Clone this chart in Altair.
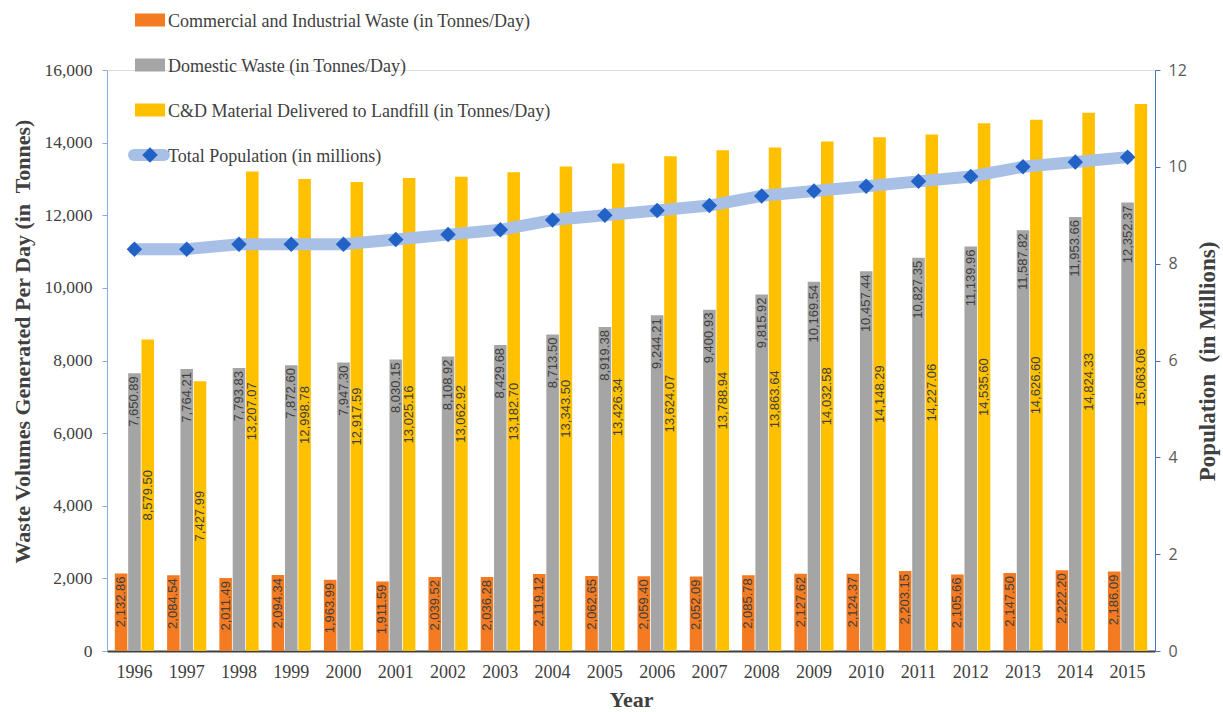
import altair as alt
import pandas as pd

years = [str(y) for y in range(1996, 2016)]

commercial = [2132.86, 2084.54, 2011.49, 2094.34, 1963.99, 1911.59, 2039.52, 2036.28, 2119.12, 2062.65,
              2059.40, 2052.09, 2085.78, 2127.62, 2124.37, 2203.15, 2105.66, 2147.50, 2222.20, 2186.09]
domestic = [7650.89, 7764.21, 7793.83, 7872.60, 7947.30, 8030.15, 8108.92, 8429.68, 8713.50, 8919.38,
            9244.21, 9400.93, 9815.92, 10169.54, 10457.44, 10827.35, 11139.96, 11587.82, 11953.66, 12352.37]
cd_material = [8579.50, 7427.99, 13207.07, 12998.78, 12917.59, 13025.16, 13062.92, 13182.70, 13343.50, 13426.34,
               13624.07, 13788.94, 13863.64, 14032.58, 14148.29, 14227.06, 14535.60, 14626.60, 14824.33, 15063.06]
population = [8.3, 8.3, 8.4, 8.4, 8.4, 8.5, 8.6, 8.7, 8.9, 9.0,
              9.1, 9.2, 9.4, 9.5, 9.6, 9.7, 9.8, 10.0, 10.1, 10.2]

series_names = ["Commercial and Industrial Waste (in Tonnes/Day)",
                "Domestic Waste (in Tonnes/Day)",
                "C&D Material Delivered to Landfill (in Tonnes/Day)"]
pop_name = "Total Population (in millions)"
bar_colors = ["#F47B22", "#A5A5A5", "#FFC000"]
line_color = "#A9C0E6"
point_color = "#2262C6"

rows = []
for i, yr in enumerate(years):
    for s, vals in zip(series_names, [commercial, domestic, cd_material]):
        rows.append({"Year": yr, "Series": s, "Value": vals[i]})
bars_df = pd.DataFrame(rows)
pop_df = pd.DataFrame({"Year": years, "Population": population})

W, H = 1048, 581
serif = "Liberation Serif"
txt = "#404040"

x_axis = alt.Axis(title="Year", labelAngle=0, labelFont=serif, labelFontSize=18, labelColor=txt,
                  labelPadding=12, ticks=False, domainColor="#404040", domainWidth=2,
                  titleFont=serif, titleFontSize=22, titleFontWeight="bold", titleColor=txt,
                  titleX=W / 2, titleY=48, titleBaseline="middle")
x_enc = alt.X("Year:N", sort=years, scale=alt.Scale(paddingInner=0.25, paddingOuter=0.15), axis=x_axis)
xoff = alt.XOffset("Series:N", sort=series_names,
                   scale=alt.Scale(domain=series_names, paddingInner=0.06))
color_enc = alt.Color("Series:N", scale=alt.Scale(domain=series_names, range=bar_colors), legend=None)

left_axis = alt.Axis(title="Waste Volumes Generated Per Day (in\u00a0 Tonnes)", values=list(range(0, 16001, 2000)),
                     format=",d", labelFont=serif, labelFontSize=17.5, labelColor=txt, labelPadding=10,
                     tickSize=5, tickColor="#8FAADC", domainColor="#8FAADC", grid=False, labelFlush=False,
                     titleFont=serif, titleFontSize=22, titleFontWeight="bold", titleColor=txt,
                     titleAngle=270, titleX=-85, titleY=271, titleBaseline="middle", titleAlign="center")
left_scale = alt.Scale(domain=[0, 16000], nice=False)

bars = alt.Chart(bars_df).mark_bar().encode(
    x=x_enc, xOffset=xoff, color=color_enc,
    y=alt.Y("Value:Q", scale=left_scale, axis=left_axis),
)

end_labels = alt.Chart(bars_df).transform_filter(
    alt.FieldOneOfPredicate(field="Series", oneOf=series_names[:2])
).mark_text(angle=270, align="right", baseline="middle", dx=-3, font="Liberation Sans",
            fontSize=13, color=txt).encode(
    x=x_enc, xOffset=xoff,
    y=alt.Y("Value:Q", scale=left_scale, axis=left_axis),
    text=alt.Text("Value:Q", format=",.2f"),
)

mid_labels = alt.Chart(bars_df).transform_filter(
    alt.FieldEqualPredicate(field="Series", equal=series_names[2])
).transform_calculate(Mid="datum.Value / 2").mark_text(
    angle=270, align="center", baseline="middle", font="Liberation Sans", fontSize=13, color=txt
).encode(
    x=x_enc, xOffset=xoff,
    y=alt.Y("Mid:Q", scale=left_scale, axis=left_axis),
    text=alt.Text("Value:Q", format=",.2f"),
)

right_axis = alt.Axis(orient="right", title="Population\u00a0 (in Millions)", values=list(range(0, 13, 2)),
                      labelFont="Open Sans", labelFontSize=16, labelColor="#595959", labelPadding=8,
                      tickSize=5, tickColor="#4472C4", domainColor="#4472C4", grid=False, labelFlush=False,
                      titleFont=serif, titleFontSize=23, titleFontWeight="bold", titleColor=txt,
                      titleAngle=270, titleX=52, titleY=291, titleBaseline="middle", titleAlign="center")
right_scale = alt.Scale(domain=[0, 12], nice=False)

line = alt.Chart(pop_df).mark_line(color=line_color, strokeWidth=12, strokeJoin="round", strokeCap="round").encode(
    x=x_enc, y=alt.Y("Population:Q", scale=right_scale, axis=right_axis)
)
points = alt.Chart(pop_df).mark_point(shape="diamond", filled=True, size=240, color=point_color, opacity=1).encode(
    x=x_enc, y=alt.Y("Population:Q", scale=right_scale, axis=right_axis)
)

# legend (manual, positioned relative to plot origin)
legend_layers = []
row_y = [-50, -5, 40]
for name, col, ry in zip(series_names, bar_colors, row_y):
    d = pd.DataFrame({"label": [name]})
    legend_layers.append(alt.Chart(d).mark_rect(color=col).encode(
        x=alt.value(28), x2=alt.value(58), y=alt.value(ry - 6.5), y2=alt.value(ry + 6.5)))
    legend_layers.append(alt.Chart(d).mark_text(align="left", baseline="middle", font=serif, fontSize=18,
                                                color=txt).encode(
        x=alt.value(61), y=alt.value(ry + 2), text="label:N"))
dpop = pd.DataFrame({"label": [pop_name]})
legend_layers.append(alt.Chart(dpop).mark_rule(color=line_color, strokeWidth=12, strokeCap="round").encode(
    x=alt.value(27), x2=alt.value(57), y=alt.value(85)))
legend_layers.append(alt.Chart(dpop).mark_point(shape="diamond", filled=True, size=240, color=point_color,
                                                opacity=1).encode(x=alt.value(43), y=alt.value(85)))
legend_layers.append(alt.Chart(dpop).mark_text(align="left", baseline="middle", font=serif, fontSize=18,
                                               color=txt).encode(
    x=alt.value(61), y=alt.value(87), text="label:N"))

left_group = alt.layer(bars, end_labels, mid_labels)
right_group = alt.layer(line, points)

chart = alt.layer(left_group, right_group, *legend_layers).resolve_scale(y="independent").properties(
    width=W, height=H,
    autosize=alt.AutoSizeParams(type="none"),
    padding={"left": 107, "top": 70, "right": 68, "bottom": 61},
).configure_view(stroke=None).configure(background="white")

chart.save("out.html", embed_options={"renderer": "svg", "actions": False})
